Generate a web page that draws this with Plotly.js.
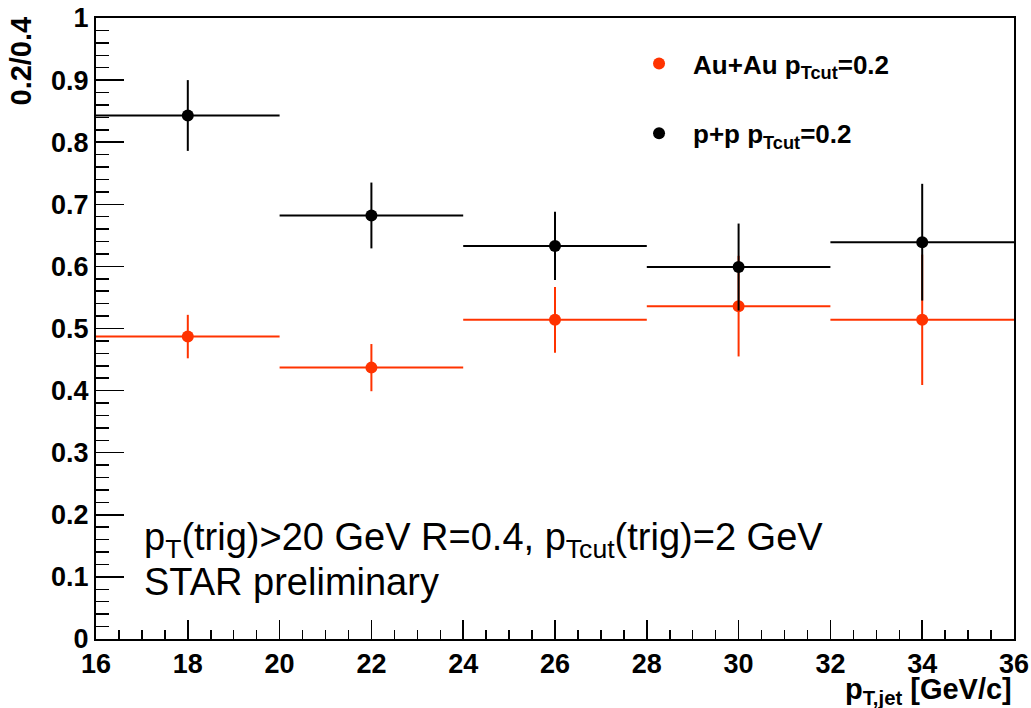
<!DOCTYPE html>
<html>
<head>
<meta charset="utf-8">
<script src="https://cdn.plot.ly/plotly-3.0.1.min.js"></script>
<style>html,body{margin:0;padding:0;background:#fff;}#chart{width:1031px;height:708px;}</style>
</head>
<body>
<div id="chart"></div>
<script>
// Bin centres (pT,jet in GeV/c) and half bin widths
const binCenters = [18, 22, 26, 30, 34];
const binHalfWidth = [2, 2, 2, 2, 2];

// Au+Au pTcut=0.2 ratio 0.2/0.4
const auauValues = [0.487, 0.437, 0.514, 0.536, 0.514];
const auauErrors = [0.035, 0.038, 0.053, 0.081, 0.105];

// p+p pTcut=0.2 ratio 0.2/0.4
const ppValues = [0.843, 0.682, 0.633, 0.599, 0.639];
const ppErrors = [0.057, 0.053, 0.055, 0.070, 0.094];

const seriesNames = ['Au+Au p<sub>Tcut</sub>=0.2', 'p+p p<sub>Tcut</sub>=0.2'];
const textLines = ['p<sub>T</sub>(trig)&gt;20 GeV R=0.4, p<sub>Tcut</sub>(trig)=2 GeV', 'STAR preliminary'];

const RED = '#ff3300';
const FONT = 'Liberation Sans, Arial, Helvetica, sans-serif';

function series(name, y, err, color, group) {
  return {
    type: 'scatter', mode: 'markers', name: name, legendgroup: group,
    x: binCenters, y: y,
    marker: {color: color, size: 12, symbol: 'circle'},
    error_x: {type: 'data', array: binHalfWidth, visible: true, color: color, thickness: 2, width: 0},
    error_y: {type: 'data', array: err, visible: true, color: color, thickness: 2, width: 0},
    cliponaxis: false
  };
}

const data = [
  series(seriesNames[0], auauValues, auauErrors, RED, 'a'),
  series(seriesNames[1], ppValues, ppErrors, '#000000', 'b')
];

const layout = {
  width: 1031, height: 708,
  margin: {l: 96, r: 17, t: 18, b: 69},
  paper_bgcolor: '#ffffff', plot_bgcolor: '#ffffff',
  font: {family: FONT, color: '#000'},
  showlegend: true,
  legend: {
    x: 0.5763, y: 0.9646, xanchor: 'left', yanchor: 'top',
    bgcolor: 'rgba(0,0,0,0)', borderwidth: 0, itemwidth: 58,
    font: {family: FONT, size: 26, weight: 'bold', color: '#000'},
    traceorder: 'grouped', tracegroupgap: 33
  },
  xaxis: {
    range: [16, 36], dtick: 2, tick0: 16,
    showgrid: false, zeroline: false,
    showline: true, linecolor: '#000', linewidth: 2, mirror: true,
    ticks: 'inside', ticklen: 19, tickwidth: 1.5, tickcolor: '#000',
    minor: {dtick: 0.5, ticks: 'inside', ticklen: 9, tickwidth: 1.5, tickcolor: '#000', showgrid: false},
    tickfont: {family: FONT, size: 27, weight: 'bold', color: '#000'}
  },
  yaxis: {
    range: [0, 1], dtick: 0.1, tick0: 0,
    showgrid: false, zeroline: false,
    showline: true, linecolor: '#000', linewidth: 2, mirror: true,
    ticks: 'inside', ticklen: 28, tickwidth: 1.5, tickcolor: '#000',
    minor: {dtick: 0.02, ticks: 'inside', ticklen: 13, tickwidth: 1.5, tickcolor: '#000', showgrid: false},
    tickfont: {family: FONT, size: 27, weight: 'bold', color: '#000'}
  },
  annotations: [
    {xref: 'paper', yref: 'paper', x: -0.082, y: 1.006, xanchor: 'center', yanchor: 'top',
     textangle: -90, showarrow: false, text: '<b>0.2/0.4</b>',
     font: {family: FONT, size: 29, color: '#000'}},
    {xref: 'paper', yref: 'paper', x: 1.0, y: -0.083, xanchor: 'right', yanchor: 'middle',
     showarrow: false, text: '<b>p<sub>T,jet</sub> [GeV/c]</b>',
     font: {family: FONT, size: 29, color: '#000'}},
    {xref: 'x', yref: 'y', x: 17.0, y: 0.159, xanchor: 'left', yanchor: 'middle',
     showarrow: false, text: textLines[0], font: {family: FONT, size: 38, color: '#000'}},
    {xref: 'x', yref: 'y', x: 17.0, y: 0.092, xanchor: 'left', yanchor: 'middle',
     showarrow: false, text: textLines[1], font: {family: FONT, size: 38, color: '#000'}}
  ]
};

Plotly.newPlot('chart', data, layout, {displayModeBar: false, staticPlot: true});
</script>
</body>
</html>
